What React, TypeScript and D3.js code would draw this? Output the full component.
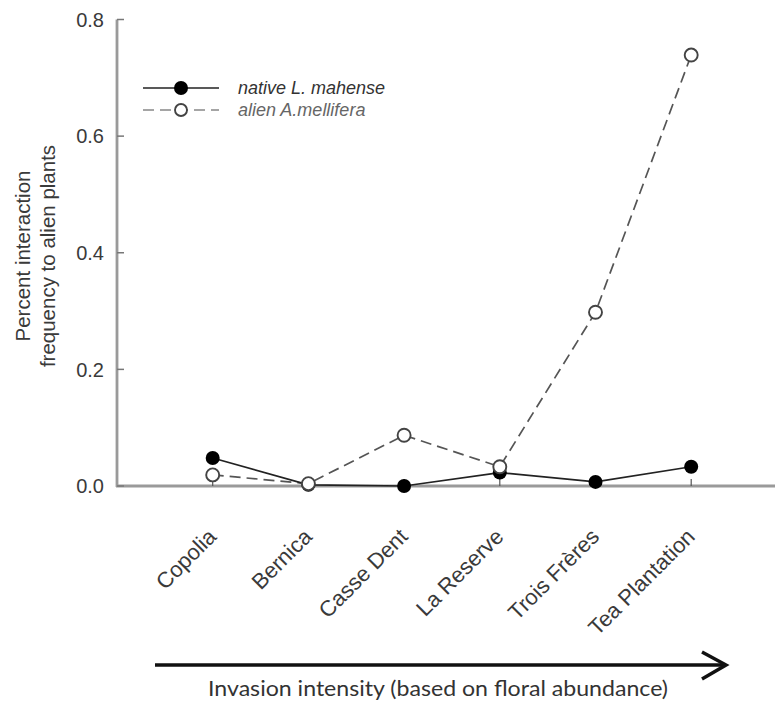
import React from "react";
import * as d3 from "d3";

const categories = ["Copolia", "Bernica", "Casse Dent", "La Reserve", "Trois Frères", "Tea Plantation"];
const nativeValues = [0.048, 0.002, 0.0, 0.023, 0.007, 0.033];
const alienValues = [0.019, 0.004, 0.087, 0.033, 0.298, 0.739];
const yTicks = [0.0, 0.2, 0.4, 0.6, 0.8];
const seriesNames = ["native L. mahense", "alien A.mellifera"];

const W = 775;
const H = 702;

export default function App() {
  const x = d3.scaleLinear().domain([0, 7]).range([117, 117 + 7 * 95.7]);
  const y = d3.scaleLinear().domain([0, 0.8]).range([486, 19.5]);
  const xi = (i: number) => x(i + 1);

  const line = d3
    .line<number>()
    .x((_, i) => xi(i))
    .y((d) => y(d));

  const axisColor = "#9a9a9a";
  const font = "'Liberation Sans', Arial, sans-serif";
  const textColor = "#3a3a3a";

  return (
    <svg width={W} height={H} style={{ position: "absolute", left: 0, top: 0, background: "#fff" }}>
      <rect x={0} y={0} width={W} height={H} fill="#fff" />
      {/* axes */}
      <line x1={117} y1={y(0.8)} x2={117} y2={487} stroke={axisColor} strokeWidth={2.8} />
      <line x1={116} y1={486} x2={W} y2={486} stroke={axisColor} strokeWidth={2.8} />
      {yTicks.map((t) => (
        <g key={t}>
          <line x1={117} x2={124} y1={y(t)} y2={y(t)} stroke="#777" strokeWidth={1.5} />
          <text
            x={104}
            y={y(t)}
            dy="0.36em"
            textAnchor="end"
            fontFamily={font}
            fontSize={20}
            fill={textColor}
          >
            {t.toFixed(1)}
          </text>
        </g>
      ))}
      {categories.map((c, i) => (
        <g key={c}>
          <line x1={xi(i)} x2={xi(i)} y1={486} y2={479} stroke="#555" strokeWidth={1.2} />
          <text
            transform={`translate(${xi(i) + 5},${538}) rotate(-45)`}
            textAnchor="end"
            fontFamily={font}
            fontSize={22}
            fill={textColor}
          >
            {c}
          </text>
        </g>
      ))}
      {/* y title */}
      <text
        transform={`translate(22,256) rotate(-90)`}
        textAnchor="middle"
        dominantBaseline="central"
        fontFamily={font}
        fontSize={20.5}
        fill={textColor}
      >
        Percent interaction
      </text>
      <text
        transform={`translate(47,256) rotate(-90)`}
        textAnchor="middle"
        dominantBaseline="central"
        fontFamily={font}
        fontSize={20.5}
        fill={textColor}
      >
        frequency to alien plants
      </text>

      {/* series */}
      <path d={line(alienValues) || ""} fill="none" stroke="#555" strokeWidth={1.7} strokeDasharray="11,6" />
      <path d={line(nativeValues) || ""} fill="none" stroke="#222" strokeWidth={1.7} />
      {nativeValues.map((v, i) => (
        <circle key={"n" + i} cx={xi(i)} cy={y(v)} r={7} fill="#000" />
      ))}
      {alienValues.map((v, i) => (
        <circle key={"a" + i} cx={xi(i)} cy={y(v)} r={6.5} fill="#fff" stroke="#444" strokeWidth={1.9} />
      ))}

      {/* legend */}
      <line x1={143} x2={219} y1={88} y2={88} stroke="#222" strokeWidth={1.7} />
      <circle cx={181} cy={88} r={7} fill="#000" />
      <line x1={143} x2={219} y1={110} y2={110} stroke="#888" strokeWidth={1.7} strokeDasharray="11,6" />
      <circle cx={181} cy={110} r={6} fill="#fff" stroke="#444" strokeWidth={1.9} />
      <text x={238} y={94} fontFamily={font} fontSize={18} fontStyle="italic" fill="#333">
        {seriesNames[0]}
      </text>
      <text x={238} y={116} fontFamily={font} fontSize={18} fontStyle="italic" fill="#666">
        {seriesNames[1]}
      </text>

      {/* arrow */}
      <line x1={155} x2={725} y1={665} y2={665} stroke="#111" strokeWidth={3.5} />
      <polyline points="702,652 726,665 702,679" fill="none" stroke="#111" strokeWidth={3.5} />
      <text
        x={438}
        y={696}
        textAnchor="middle"
        fontFamily="Lato, 'Open Sans', sans-serif"
        fontSize={20.5}
        textLength={460}
        lengthAdjust="spacingAndGlyphs"
        fill="#333"
      >
        Invasion intensity (based on floral abundance)
      </text>
    </svg>
  );
}
